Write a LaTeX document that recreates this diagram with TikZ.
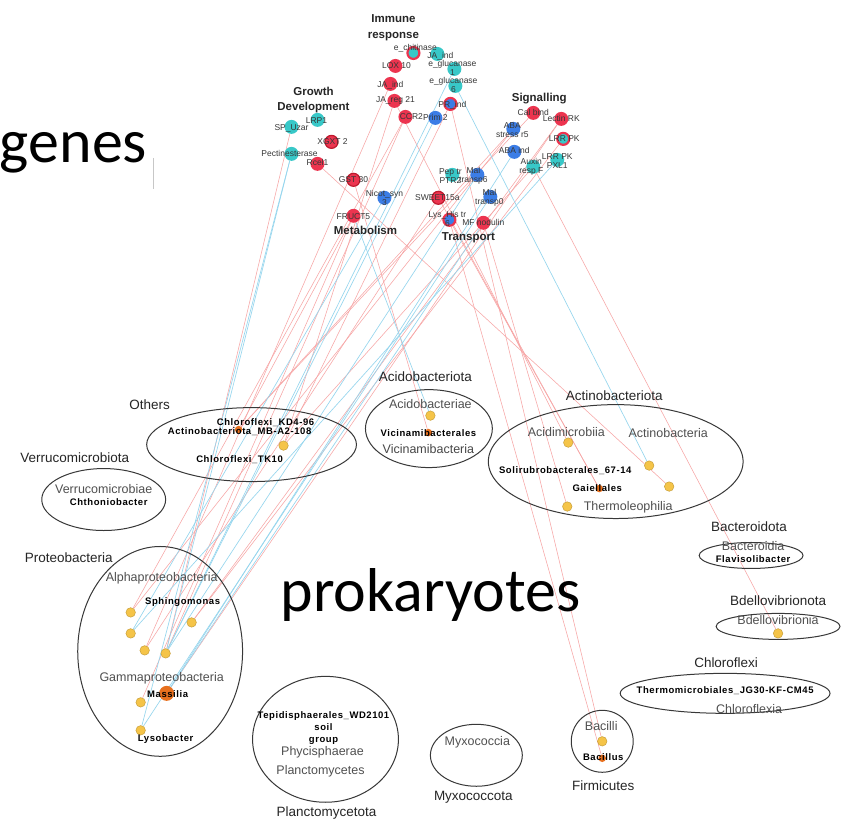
\documentclass[tikz,border=0pt]{standalone}
\usepackage{fontspec}
\setmainfont{Liberation Sans}
\newfontfamily\bigfont{Carlito}
\newfontfamily\genusface[LetterSpace=6]{Liberation Sans}
\usetikzlibrary{shapes.geometric,backgrounds}

\definecolor{genered}{RGB}{236,52,79}
\definecolor{geneteal}{RGB}{56,200,200}
\definecolor{geneblue}{RGB}{59,125,230}
\definecolor{ringred}{RGB}{190,25,45}
\definecolor{edgered}{RGB}{247,165,165}
\definecolor{edgeblue}{RGB}{150,214,238}
\definecolor{taxyellow}{RGB}{245,196,72}
\definecolor{taxrim}{RGB}{200,160,60}
\definecolor{taxorange}{RGB}{232,112,30}
\definecolor{classgray}{RGB}{80,80,80}
\definecolor{labelgray}{RGB}{55,55,55}

\newcommand\genefont{\fontsize{8.5}{9.5}\selectfont}
\newcommand\catfont{\fontsize{11.5}{15.5}\selectfont\bfseries}
\newcommand\phylfont{\fontsize{13.5}{15}\selectfont}
\newcommand\classfont{\fontsize{12.5}{14}\selectfont}
\newcommand\genusfont{\genusface\fontsize{9.5}{12}\selectfont\bfseries}

\tikzset{
  gnode/.style={circle, inner sep=0pt, minimum size=14pt},
  gred/.style={gnode, fill=genered},
  gteal/.style={gnode, fill=geneteal},
  gblue/.style={gnode, fill=geneblue},
  gring/.style={gnode, minimum size=12pt, fill=#1, draw=genered, line width=2.2pt},
  gdark/.style={gnode, minimum size=13pt, fill=genered, draw=ringred, line width=1.2pt},
  glabel/.style={inner sep=0pt, align=center, text=labelgray, font=\genefont},
  catlabel/.style={inner sep=0pt, align=center, text=black!85, font=\catfont},
  phyl/.style={inner sep=0pt, text=black!85, font=\phylfont},
  cls/.style={inner sep=0pt, text=classgray, font=\classfont},
  genus/.style={inner sep=0pt, align=center, text=black, font=\genusfont},
  taxring/.style={ellipse, draw=black!78, line width=1pt, inner sep=0pt, fill=none},
  tyellow/.style={circle, inner sep=0pt, minimum size=9.5pt, fill=taxyellow, draw=taxrim, line width=0.5pt},
  torange/.style={circle, inner sep=0pt, minimum size=7.5pt, fill=taxorange},
  redlink/.style={draw=edgered, line width=0.55pt},
  bluelink/.style={draw=edgeblue, line width=0.65pt},
}

\begin{document}
\begin{tikzpicture}[x=1pt, y=-1pt]

% ---------- taxonomic groups ----------
\node[taxring, minimum width=210pt, minimum height=74pt]  (e-oth) at (251,445) {};
\node[taxring, minimum width=127pt, minimum height=78pt]  (e-acd) at (428.5,429) {};
\node[taxring, minimum width=255pt, minimum height=114pt] (e-act) at (615.5,462) {};
\node[taxring, minimum width=124pt, minimum height=62pt]  (e-ver) at (103,500) {};
\node[taxring, minimum width=165pt, minimum height=210pt] (e-pro) at (159.5,652) {};
\node[taxring, minimum width=146pt, minimum height=126pt] (e-pla) at (325,740) {};
\node[taxring, minimum width=92pt,  minimum height=62pt]  (e-myx) at (476,756) {};
\node[taxring, minimum width=62pt,  minimum height=62pt]  (e-fir) at (602,742) {};
\node[taxring, minimum width=104pt, minimum height=26pt]  (e-bac) at (751,556) {};
\node[taxring, minimum width=124pt, minimum height=26pt]  (e-bde) at (778,627) {};
\node[taxring, minimum width=210pt, minimum height=40pt]  (e-chl) at (725,694) {};

% phylum names
\node[phyl] (p-oth) at (149,405) {Others};
\node[phyl] (p-acd) at (425,377) {Acidobacteriota};
\node[phyl] (p-act) at (614,396) {Actinobacteriota};
\node[phyl] (p-ver) at (74,458) {Verrucomicrobiota};
\node[phyl] (p-pro) at (68,558) {Proteobacteria};
\node[phyl] (p-pla) at (326,814) {Planctomycetota};
\node[phyl] (p-myx) at (473,798) {Myxococcota};
\node[phyl] (p-fir) at (603,786) {Firmicutes};
\node[phyl] (p-bac) at (749,527) {Bacteroidota};
\node[phyl] (p-bde) at (778,601) {Bdellovibrionota};
\node[phyl] (p-chl) at (726,663) {Chloroflexi};

% class names
\node[cls] (c-acd1) at (430,404) {Acidobacteriae};
\node[cls, text=black!72] (c-acd2) at (428,449) {Vicinamibacteria};
\node[cls] (c-act1) at (566,432) {Acidimicrobiia};
\node[cls] (c-act2) at (668,433) {Actinobacteria};
\node[cls] (c-act3) at (628,508) {Thermoleophilia};
\node[cls] (c-ver) at (103,489) {Verrucomicrobiae};
\node[cls] (c-pro1) at (161,579) {Alphaproteobacteria};
\node[cls] (c-pro2) at (161,679) {Gammaproteobacteria};
\node[cls] (c-pla1) at (322,753) {Phycisphaerae};
\node[cls] (c-pla2) at (320,772) {Planctomycetes};
\node[cls] (c-myx) at (477,743) {Myxococcia};
\node[cls] (c-fir) at (601,727) {Bacilli};
\node[cls] (c-bac) at (753,547) {Bacteroidia};
\node[cls] (c-bde) at (778,621) {Bdellovibrionia};
\node[cls] (c-chl) at (749,710) {Chloroflexia};

% taxa nodes
\node[torange] (bOthO) at (238,430) {};
\node[tyellow] (bOthY) at (283,446) {};
\node[tyellow] (bAcY) at (430,416) {};
\node[torange] (bVicO) at (428,433) {};
\node[tyellow] (bY1) at (568,443) {};
\node[tyellow] (bY2) at (649,466) {};
\node[tyellow] (bY3) at (669,487) {};
\node[torange] (bGai) at (599,489) {};
\node[tyellow] (bY4) at (567,507) {};
\node[tyellow] (bP1) at (130,613) {};
\node[tyellow] (bP2) at (130,634) {};
\node[tyellow] (bP3) at (191,623) {};
\node[tyellow] (bP4) at (144,651) {};
\node[tyellow] (bP5) at (165,654) {};
\node[torange, minimum size=15pt] (bMas) at (166,694) {};
\node[tyellow] (bP6) at (140,703) {};
\node[tyellow] (bP7) at (140,731) {};
\node[tyellow] (bBacY) at (602,742) {};
\node[torange] (bBacO) at (602,759) {};
\node[tyellow] (bBdY) at (778,634) {};

% genus / order names
\node[genus] (s-oth1) at (265,423) {Chloroflexi\_KD4-96};
\node[genus] (s-oth2) at (239,432) {Actinobacteriota\_MB-A2-108};
\node[genus] (s-oth3) at (239,460) {Chloroflexi\_TK10};
\node[genus] (s-vic) at (428,434) {Vicinamibacterales};
\node[genus] (s-sol) at (565,471) {Solirubrobacterales\_67-14};
\node[genus] (s-gai) at (597,489) {Gaiellales};
\node[genus] (s-cht) at (108,503) {Chthoniobacter};
\node[genus] (s-sph) at (182,603) {Sphingomonas};
\node[genus] (s-mas) at (167,695) {Massilia};
\node[genus] (s-lys) at (165,740) {Lysobacter};
\node[genus] (s-tep) at (323,729) {Tepidisphaerales\_WD2101\\soil\\group};
\node[genus] (s-bcl) at (603,758) {Bacillus};
\node[genus] (s-fla) at (753,560) {Flavisolibacter};
\node[genus] (s-the) at (725,691) {Thermomicrobiales\_JG30-KF-CM45};

% ---------- gene nodes ----------
% immune response
\node[gring=geneteal] (gChi) at (413,53) {};
\node[gteal] (gJAind1) at (437,54) {};
\node[gred] (gLOX) at (395,66) {};
\node[gteal] (gGlu1) at (454,69) {};
\node[gred] (gJAind2) at (390,84) {};
\node[gteal] (gGlu6) at (455,86) {};
\node[gred] (gJAreg) at (394,101) {};
\node[gring=geneblue] (gPR) at (450,104) {};
\node[gred] (gCCR) at (405,117) {};
\node[gblue] (gPrim) at (435,118) {};
% growth and development
\node[gteal] (gLRP) at (317,120) {};
\node[gteal] (gSP) at (291,127) {};
\node[gdark] (gXG) at (331,142) {};
\node[gteal] (gPec) at (291,154) {};
\node[gred] (gRcel) at (317,164) {};
% metabolism
\node[gdark] (gGST) at (353,180) {};
\node[gblue] (gNic) at (384,198) {};
\node[gred] (gFru) at (353,216) {};
% signalling
\node[gred] (gCal) at (533,113) {};
\node[gred] (gLec) at (561,119) {};
\node[gblue] (gABAs) at (513,129) {};
\node[gring=geneteal] (gLRR1) at (563,139) {};
\node[gblue] (gABAi) at (514,152) {};
\node[gteal] (gLRR2) at (557,160) {};
\node[gteal] (gAux) at (533,167) {};
% transport
\node[gteal] (gPep) at (452,175) {};
\node[gblue] (gMal6) at (477,175) {};
\node[gblue] (gMal0) at (490,197) {};
\node[gdark] (gSW) at (438,198) {};
\node[gring=geneblue] (gLys) at (449,220) {};
\node[gred] (gMF) at (483,223) {};

% gene names
\node[glabel] (t-chi) at (415,48) {e\_chitinase};
\node[glabel] (t-jai1) at (440,56) {JA\_ind};
\node[glabel] (t-lox) at (396,66) {LOX 10};
\node[glabel] (t-glu1) at (452,68) {e\_glucanase\\1};
\node[glabel] (t-jai2) at (390,85) {JA\_ind};
\node[glabel] (t-glu6) at (453,85) {e\_glucanase\\6};
\node[glabel] (t-jar) at (395,101) {JA\_reg 21};
\node[glabel] (t-pr) at (452,105) {PR\_ind};
\node[glabel] (t-ccr) at (411,117) {CCR2};
\node[glabel] (t-prim) at (435,118) {Prim 2};
\node[glabel] (t-lrp) at (316,121) {LRP1};
\node[glabel] (t-sp) at (291,128) {SP\_Uzar};
\node[glabel] (t-xg) at (332,142) {XGXT 2};
\node[glabel] (t-pec) at (289,154) {Pectinesterase};
\node[glabel] (t-rcel) at (317,163) {Rcel1};
\node[glabel] (t-gst) at (353,180) {GST 30};
\node[glabel] (t-nic) at (384,198) {Nicot\_syn\\3};
\node[glabel] (t-fru) at (353,217) {FRUCT5};
\node[glabel] (t-cal) at (533,113) {Cal bind};
\node[glabel] (t-lec) at (561,119) {Lectin RK};
\node[glabel] (t-abas) at (512,130) {ABA\\stress r5};
\node[glabel] (t-lrr1) at (564,139) {LRR PK};
\node[glabel] (t-abai) at (514,151) {ABA ind};
\node[glabel] (t-lrr2) at (557,161) {LRR PK\\PXL1};
\node[glabel] (t-aux) at (531,167) {Auxin\\resp F};
\node[glabel] (t-pep) at (450,176) {Pep tr\\PTR2};
\node[glabel] (t-mal6) at (473,176) {Mal\\transp6};
\node[glabel] (t-mal0) at (489,198) {Mal\\transp0};
\node[glabel] (t-sw) at (437,198) {SWEET15a};
\node[glabel] (t-lys) at (447,219) {Lys\_His tr\\6};
\node[glabel] (t-mf) at (483,223) {MF nodulin};

% functional categories
\node[catlabel] (k-imm) at (393,28) {Immune\\response};
\node[catlabel] (k-gro) at (313,100) {Growth\\Development};
\node[catlabel] (k-sig) at (539,99) {Signalling};
\node[catlabel] (k-met) at (365,231) {Metabolism};
\node[catlabel] (k-tra) at (468,238) {Transport};

% headings
\node[anchor=base west, inner sep=0pt, font=\bigfont\fontsize{62}{62}\selectfont] (w-genes) at (-1,163) {genes};
\node[anchor=base west, inner sep=0pt, font=\bigfont\fontsize{62}{62}\selectfont] (w-prok) at (280,612) {prokaryotes};
\coordinate (tick-a) at (152.5,158);
\coordinate (tick-b) at (152.5,189);
\draw[black!22, line width=0.8pt] (tick-a) -- (tick-b);

% ---------- correlations ----------
\begin{pgfonlayer}{background}
  \fill[white] (0,0) rectangle (845,822);
  % positive links
  \draw[redlink] (gSP) -- (bP5);
  \draw[redlink] (gSW) -- (bP4);
  \draw[redlink] (gRcel) -- (bY3);
  \draw[redlink] (gAux) -- (bBdY);
  \draw[redlink] (gLys) -- (bBacO);
  \draw[redlink] (gPR) -- (bBacY);
  \draw[redlink] (gMF) -- (bY4);
  \draw[redlink] (gSW) -- (bGai);
  \draw[redlink] (gLys) -- (bGai);
  \draw[redlink] (gJAreg) -- (bY1);
  \draw[redlink] (gCal) -- (bOthO);
  \draw[redlink] (gABAs) -- (bOthO);
  \draw[redlink] (gABAs) -- (bP1);
  \draw[redlink] (gLec) -- (bP3);
  \draw[redlink] (gLRR1) -- (bP3);
  \draw[redlink] (gLec) -- (bMas);
  \draw[redlink] (gGST) -- (bVicO);
  \draw[redlink] (gFru) -- (bOthO);
  \draw[redlink] (gJAreg) -- (bOthY);
  \draw[redlink] (gAux) -- (bOthY);
  \draw[redlink] (gCCR) -- (bP1);
  \draw[redlink] (gCCR) -- (bP5);
  \draw[redlink] (gPR) -- (bOthY);
  \draw[redlink] (gFru) -- (bP6);
  \draw[redlink] (gJAind2) -- (bP4);
  % negative links
  \draw[bluelink] (gPec) -- (bP5);
  \draw[bluelink] (gPec) -- (bP7);
  \draw[bluelink] (gGlu6) -- (bY2);
  \draw[bluelink] (gGlu1) -- (bP5);
  \draw[bluelink] (gNic) -- (bP2);
  \draw[bluelink] (gFru) -- (bAcY);
  \draw[bluelink] (gMal0) -- (bP7);
  \draw[bluelink] (gMal6) -- (bP5);
  \draw[bluelink] (gABAi) -- (bMas);
  \draw[bluelink] (gLRR2) -- (bP2);
  \draw[bluelink] (gPrim) -- (bP5);
  \draw[bluelink] (gMF) -- (bMas);
\end{pgfonlayer}

\useasboundingbox (0,0) rectangle (845,822);
\end{tikzpicture}
\end{document}
